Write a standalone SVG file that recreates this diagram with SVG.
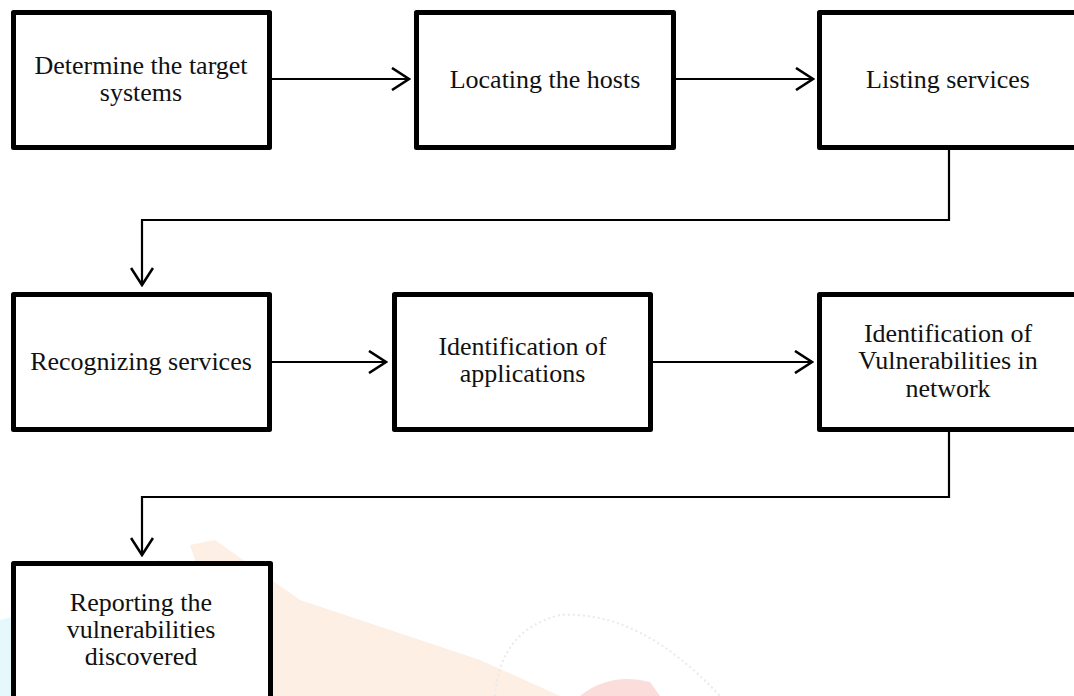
<svg xmlns="http://www.w3.org/2000/svg" width="1074" height="696" viewBox="0 0 1074 696">
<style>
.box{fill:#fff;stroke:#000;stroke-width:5;stroke-linejoin:round}
.lbl{font-family:"Liberation Serif","Times New Roman",serif;font-size:26px;fill:#111;text-anchor:middle}
.con{fill:none;stroke:#000;stroke-width:2.2}
.wm{stroke:none}
</style>
<defs>
<marker id="arr" viewBox="0 0 20 24" markerWidth="20" markerHeight="24" refX="18" refY="12" orient="auto" markerUnits="userSpaceOnUse">
<path d="M1,1 L18,12 L1,23" fill="none" stroke="#000" stroke-width="2.6"/>
</marker>
</defs>
<rect width="1074" height="696" fill="#fff"/>
<g id="watermark" opacity="0.2">
<path class="wm" d="M105,590 L160,560 L160,600 L120,610 Z" fill="#7fe0ee"/>
<path class="wm" d="M0,620 L40,610 L45,696 L0,696 Z" fill="#7fe0ee"/>
<path class="wm" d="M190,545 L215,540 L300,600 L480,660 L560,696 L240,696 Z" fill="#f7b27a"/>
<path class="wm" d="M580,696 Q610,672 650,682 L660,696 Z" fill="#f06050"/>
<path d="M495,696 Q500,630 560,615 Q640,610 720,696" fill="none" stroke="#999" stroke-width="2" stroke-dasharray="2 3"/>
</g>
<g id="connectors">
<line class="con" x1="272" y1="79" x2="409" y2="79" marker-end="url(#arr)"/>
<line class="con" x1="676" y1="79" x2="813" y2="79" marker-end="url(#arr)"/>
<polyline class="con" points="949,149 949,220 142,220 142,285" marker-end="url(#arr)"/>
<line class="con" x1="272" y1="362" x2="386" y2="362" marker-end="url(#arr)"/>
<line class="con" x1="653" y1="362" x2="812" y2="362" marker-end="url(#arr)"/>
<polyline class="con" points="949,432 949,497 142,497 142,555" marker-end="url(#arr)"/>
</g>
<g id="n1">
<rect class="box" x="13.5" y="12.5" width="256" height="135"/>
<text class="lbl" x="141" y="74">Determine the target</text>
<text class="lbl" x="141" y="101">systems</text>
</g>
<g id="n2">
<rect class="box" x="416.5" y="12.5" width="257" height="135"/>
<text class="lbl" x="545" y="88">Locating the hosts</text>
</g>
<g id="n3">
<rect class="box" x="819.5" y="12.5" width="257" height="135"/>
<text class="lbl" x="948" y="88">Listing services</text>
</g>
<g id="n4">
<rect class="box" x="13.5" y="294.5" width="256" height="135"/>
<text class="lbl" x="141" y="370">Recognizing services</text>
</g>
<g id="n5">
<rect class="box" x="394.5" y="294.5" width="256" height="135"/>
<text class="lbl" x="522.5" y="355">Identification of</text>
<text class="lbl" x="522.5" y="382">applications</text>
</g>
<g id="n6">
<rect class="box" x="819.5" y="294.5" width="257" height="135"/>
<text class="lbl" x="948" y="342">Identification of</text>
<text class="lbl" x="948" y="369">Vulnerabilities in</text>
<text class="lbl" x="948" y="397">network</text>
</g>
<g id="n7">
<rect class="box" x="13.5" y="563.5" width="257" height="140"/>
<text class="lbl" x="141" y="611">Reporting the</text>
<text class="lbl" x="141" y="638">vulnerabilities</text>
<text class="lbl" x="141" y="665">discovered</text>
</g>
</svg>
